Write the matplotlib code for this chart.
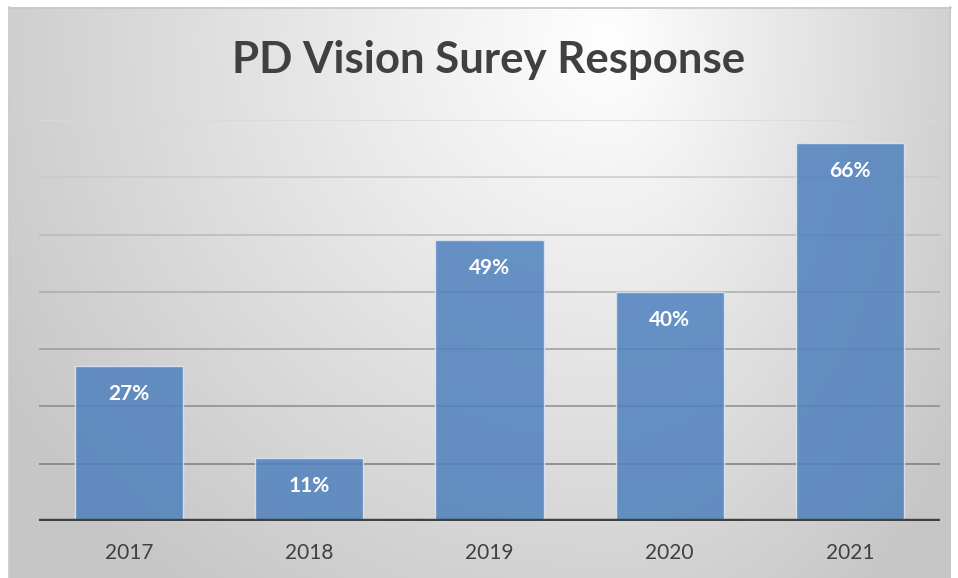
import numpy as np
import matplotlib
matplotlib.use("Agg")
import matplotlib.pyplot as plt

years = ["2017", "2018", "2019", "2020", "2021"]
responses = [27, 11, 49, 40, 66]
labels = ["27%", "11%", "49%", "40%", "66%"]
grid_values = [10, 20, 30, 40, 50, 60, 70]
title = "PD Vision Surey Response"

W, H = 958, 578
fig = plt.figure(figsize=(W / 100, H / 100), dpi=100)
fig.patch.set_facecolor("white")

# background radial gradient panel
bg = fig.add_axes([0, 0, 1, 1], zorder=0)
bg.set_xlim(0, W)
bg.set_ylim(H, 0)
bg.axis("off")
xx, yy = np.meshgrid(np.arange(9, 951), np.arange(7, 579))
cx, cy = 610, 40
dx = np.where(xx < cx, (xx - cx) / 640.0, (xx - cx) / 380.0)
dy = (yy - cy) / 620.0
d = np.clip(np.sqrt(dx ** 2 + dy ** 2), 0, 1.1)
val = 1.0 - 0.20 * d
img = np.dstack([val, val, val])
bg.imshow(img, extent=[9, 951, 579, 7], aspect="auto", interpolation="bilinear")
bg.plot([9, 951], [7.5, 7.5], color="#c8c8c8", lw=1.2)
bg.plot([9.5, 9.5], [7, 578], color="#c8c8c8", lw=1.2)
bg.plot([950.5, 950.5], [7, 578], color="#c8c8c8", lw=1.2)

ax = fig.add_axes([39 / W, (H - 521) / H, (940 - 39) / W, (521 - 120) / H], zorder=1)
ax.patch.set_alpha(0)
ax.set_xlim(-0.5, len(years) - 0.5)
ax.set_ylim(0, 70)

gtop = np.array([0xd9, 0xd9, 0xd9]) / 255
gbot = np.array([0x7c, 0x7c, 0x7c]) / 255
for i, g in enumerate(grid_values):
    t = (g - grid_values[0]) / (grid_values[-1] - grid_values[0])
    c = gbot + (gtop - gbot) * t
    ax.axhline(g, color=c, lw=1.1, zorder=0.5)

x = np.arange(len(years))
ax.bar(x, responses, width=0.6, color="#4F81BD", alpha=0.85,
       edgecolor="#dfe8f3", linewidth=1.0, zorder=2)

ax.axhline(0, color="#404040", lw=3.2, zorder=3)

for xi, v, lab in zip(x, responses, labels):
    ax.annotate(lab, (xi, v), xytext=(0, -20), textcoords="offset points",
                ha="center", va="center", color="white", fontsize=15,
                fontweight="bold", family="Lato", zorder=4)

ax.set_xticks(x)
ax.set_xticklabels(years, fontsize=15, color="#404040", family="Lato")
ax.tick_params(axis="x", length=0, pad=16)
ax.set_yticks([])
for s in ax.spines.values():
    s.set_visible(False)

fig.text(489 / W, 1 - 60 / H, title, ha="center", va="center", fontsize=31.5,
         fontweight="bold", color="#404040", family="Lato")

fig.savefig("out.png", dpi=100)
